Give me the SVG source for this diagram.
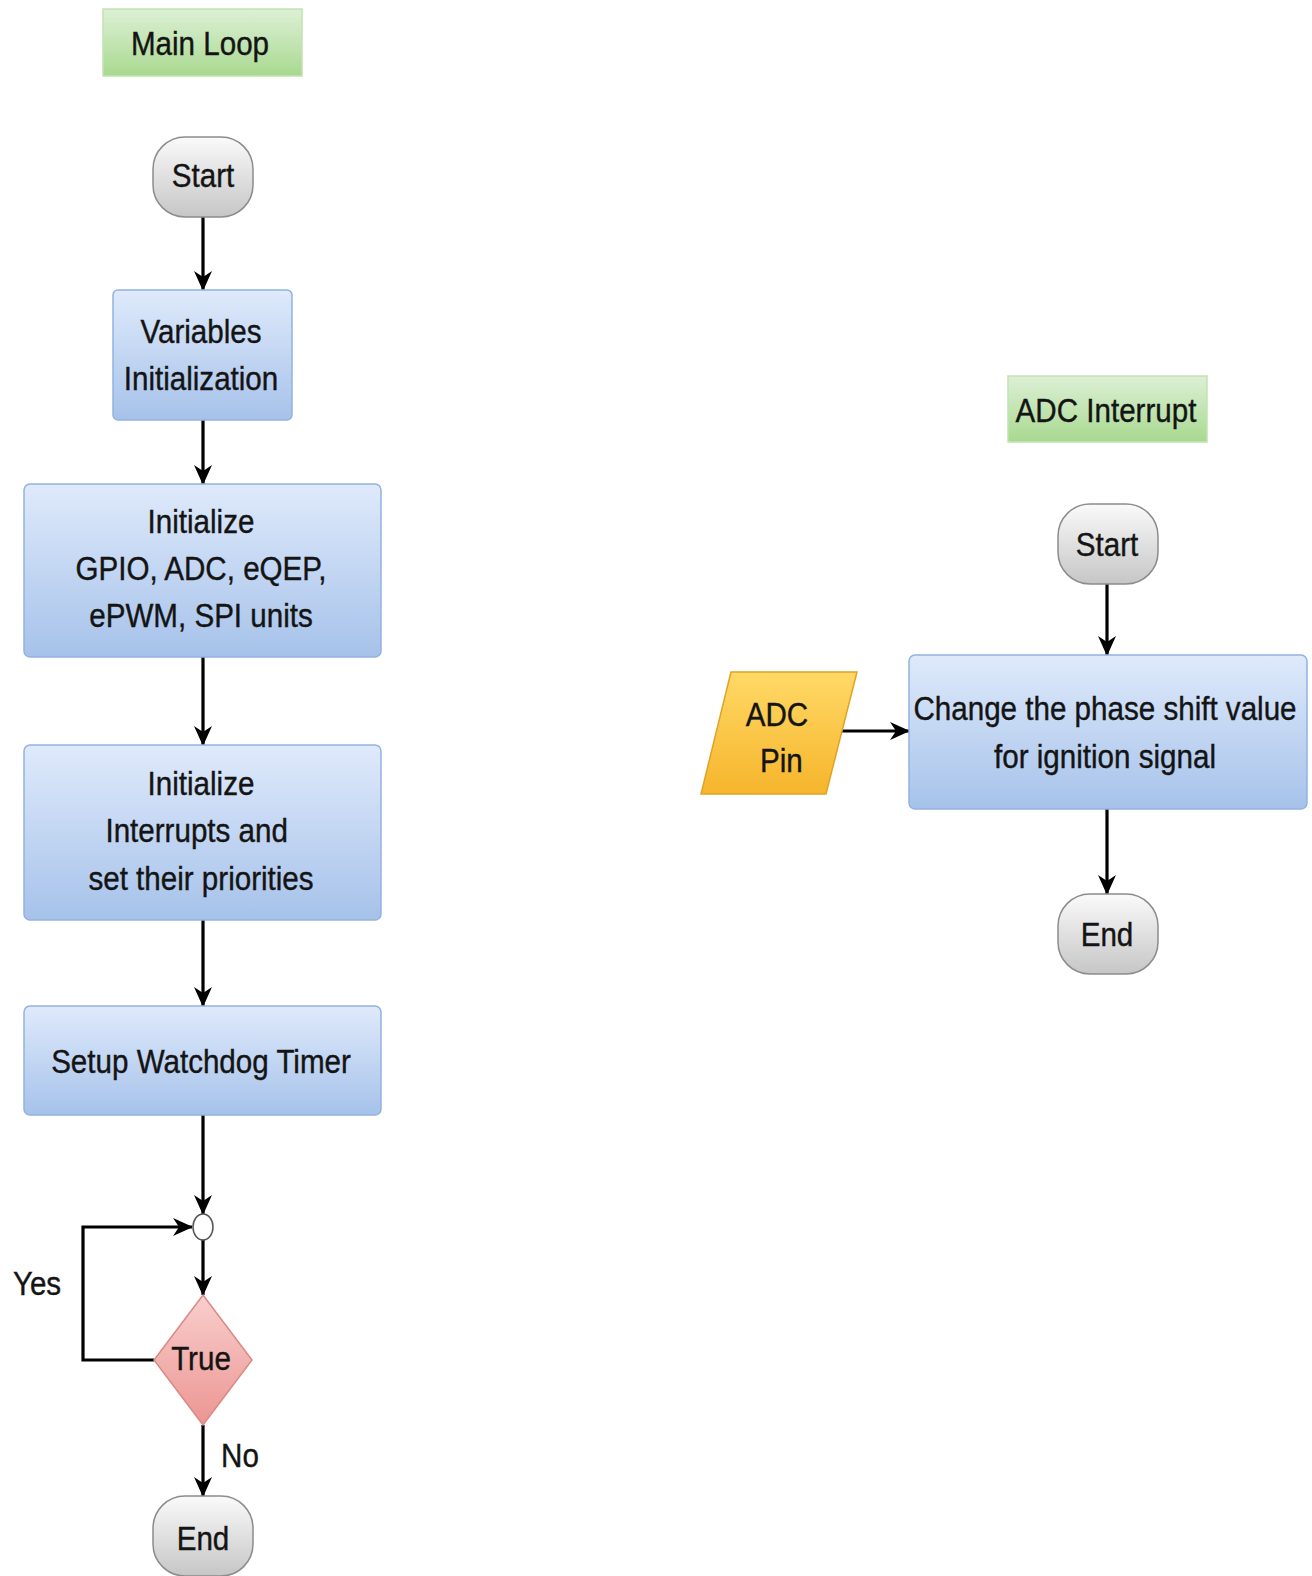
<svg xmlns="http://www.w3.org/2000/svg" width="1312" height="1576" viewBox="0 0 1312 1576">
<defs>
<linearGradient id="gGreen" x1="0" y1="0" x2="0" y2="1"><stop offset="0" stop-color="#ddf0d6"/><stop offset="1" stop-color="#a8d98f"/></linearGradient>
<linearGradient id="gBlue" x1="0" y1="0" x2="0" y2="1"><stop offset="0" stop-color="#dfeafb"/><stop offset="1" stop-color="#a6c2ea"/></linearGradient>
<linearGradient id="gGrey" x1="0" y1="0" x2="0" y2="1"><stop offset="0" stop-color="#fafafa"/><stop offset="1" stop-color="#c6c6c6"/></linearGradient>
<linearGradient id="gRed" x1="0" y1="0" x2="0" y2="1"><stop offset="0" stop-color="#f8cfcd"/><stop offset="1" stop-color="#ec9592"/></linearGradient>
<linearGradient id="gYellow" x1="0" y1="0" x2="0" y2="1"><stop offset="0" stop-color="#ffd966"/><stop offset="1" stop-color="#f6b52c"/></linearGradient>
<marker id="arr" viewBox="0 0 20 18" refX="19" refY="9" markerWidth="20" markerHeight="18" markerUnits="userSpaceOnUse" orient="auto">
<path d="M0,0 L20,9 L0,18 L6,9 z" fill="#000"/>
</marker>
<style>
text{font-family:"Liberation Sans",Arial,sans-serif;font-size:34px;fill:#141414;stroke:#141414;stroke-width:0.4;text-anchor:middle}
.lbl{fill:url(#gGreen);stroke:#c2e2b2;stroke-width:1.5}
.proc{fill:url(#gBlue);stroke:#93b3de;stroke-width:1.5}
.term{fill:url(#gGrey);stroke:#8c8c8c;stroke-width:1.5}
.dec{fill:url(#gRed);stroke:#d98a87;stroke-width:1.5}
.io{fill:url(#gYellow);stroke:#e0a224;stroke-width:1.5}
.edge{fill:none;stroke:#000;stroke-width:3.2;marker-end:url(#arr)}
</style>
</defs>
<rect width="1312" height="1576" fill="#fff"/>

<g id="connectors">
<path class="edge" d="M203,217 L203,290"/>
<path class="edge" d="M203,420 L203,484"/>
<path class="edge" d="M203,657 L203,745"/>
<path class="edge" d="M203,920 L203,1006"/>
<path class="edge" d="M203,1115 L203,1214"/>
<path class="edge" d="M203,1240 L203,1295"/>
<path class="edge" d="M154,1360 L83,1360 L83,1227 L192,1227"/>
<path class="edge" d="M203,1425 L203,1496"/>
<path class="edge" d="M1107,584 L1107,655"/>
<path class="edge" d="M1107,809 L1107,894"/>
<path class="edge" d="M840,731 L909,731"/>
</g>

<g id="main-loop-label">
<rect class="lbl" x="103" y="9" width="199" height="67"/>
<text transform="translate(200,55) scale(0.87,1)">Main Loop</text>
</g>

<g id="main-start">
<rect class="term" x="153" y="137" width="100" height="80" rx="32" ry="32"/>
<text transform="translate(203,187) scale(0.87,1)">Start</text>
</g>

<g id="var-init">
<rect class="proc" x="113" y="290" width="179" height="130" rx="5"/>
<text transform="translate(201,343) scale(0.87,1)"><tspan x="0" y="0">Variables</tspan><tspan x="0" y="47">Initialization</tspan></text>
</g>

<g id="init-periph">
<rect class="proc" x="24" y="484" width="357" height="173" rx="6"/>
<text transform="translate(201,533) scale(0.87,1)"><tspan x="0" y="0">Initialize</tspan><tspan x="0" y="47">GPIO, ADC, eQEP,</tspan><tspan x="0" y="94">ePWM, SPI units</tspan></text>
</g>

<g id="init-interrupts">
<rect class="proc" x="24" y="745" width="357" height="175" rx="6"/>
<text transform="translate(201,795) scale(0.87,1)"><tspan x="0" y="0">Initialize</tspan><tspan x="-5" y="47">Interrupts and</tspan><tspan x="0" y="95">set their priorities</tspan></text>
</g>

<g id="watchdog">
<rect class="proc" x="24" y="1006" width="357" height="109" rx="6"/>
<text transform="translate(201,1073) scale(0.87,1)">Setup Watchdog Timer</text>
</g>

<g id="junction">
<ellipse cx="203" cy="1227" rx="10" ry="13" fill="#fff" stroke="#555" stroke-width="1.5"/>
</g>

<g id="decision">
<polygon class="dec" points="203,1295 252,1360 203,1425 154,1360"/>
<text transform="translate(201,1370) scale(0.87,1)">True</text>
</g>

<g id="yes-label"><text transform="translate(37,1295) scale(0.87,1)">Yes</text></g>
<g id="no-label"><text transform="translate(240,1467) scale(0.87,1)">No</text></g>

<g id="main-end">
<rect class="term" x="153" y="1496" width="100" height="80" rx="32" ry="32"/>
<text transform="translate(203,1550) scale(0.87,1)">End</text>
</g>

<g id="adc-interrupt-label">
<rect class="lbl" x="1008" y="376" width="199" height="66"/>
<text transform="translate(1106,422) scale(0.87,1)">ADC Interrupt</text>
</g>

<g id="adc-start">
<rect class="term" x="1058" y="504" width="100" height="80" rx="32" ry="32"/>
<text transform="translate(1107,556) scale(0.87,1)">Start</text>
</g>

<g id="adc-pin">
<polygon class="io" points="731,672 857,672 826,794 701,794"/>
<text transform="translate(777,726) scale(0.87,1)"><tspan x="0" y="0">ADC</tspan><tspan x="5" y="46">Pin</tspan></text>
</g>

<g id="change-phase">
<rect class="proc" x="909" y="655" width="398" height="154" rx="6"/>
<text transform="translate(1105,720) scale(0.87,1)"><tspan x="0" y="0">Change the phase shift value</tspan><tspan x="0" y="48">for ignition signal</tspan></text>
</g>

<g id="adc-end">
<rect class="term" x="1058" y="894" width="100" height="80" rx="32" ry="32"/>
<text transform="translate(1107,946) scale(0.87,1)">End</text>
</g>
</svg>
